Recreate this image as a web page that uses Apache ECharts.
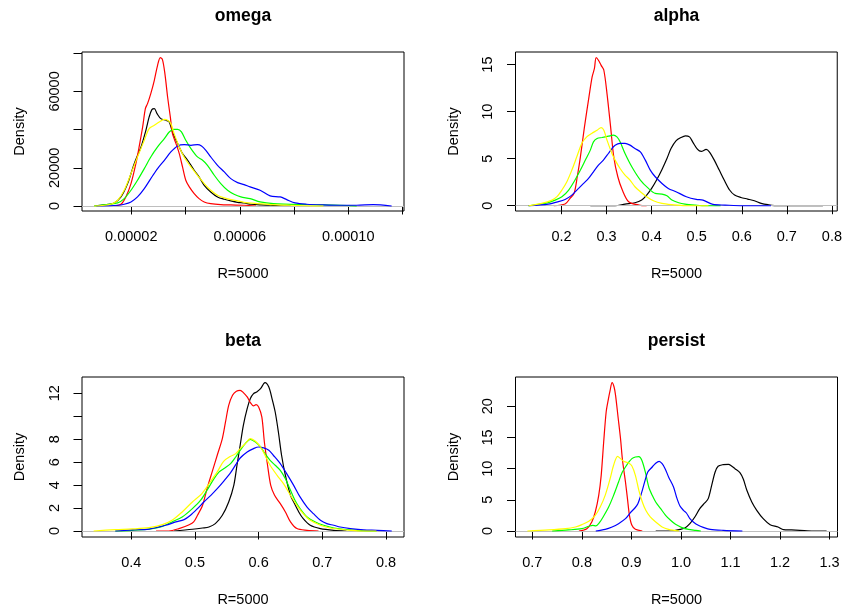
<!DOCTYPE html>
<html>
<head>
<meta charset="utf-8">
<title>Density of estimates, R=5000</title>
<script src="https://cdn.jsdelivr.net/npm/echarts@6/dist/echarts.min.js"></script>
<style>
  html, body { margin: 0; padding: 0; background: #fff; }
  #chart { width: 845px; height: 610px; }
</style>
</head>
<body>
<div id="chart"></div>
<script>
// ---- omega ----
const omegaBlack = [[6.4e-6,0],[10.1e-6,560],[13.7e-6,1600],[16.2e-6,4745],[18.65e-6,11725],[21.1e-6,22195],[23.6e-6,30920],[25.4e-6,39645],[26.6e-6,46625],[27.6e-6,50465],[28.5e-6,50990],[29.5e-6,48370],[30.9e-6,45750],[32.8e-6,44880],[34.0e-6,44010],[35.2e-6,38775],[37.1e-6,32665],[38.9e-6,27430],[40.8e-6,23940],[43.2e-6,18705],[45.0e-6,15215],[46.9e-6,10850],[49.3e-6,7360],[51.8e-6,4745],[54.3e-6,3520],[56.7e-6,2650],[59.2e-6,1920],[61.6e-6,1570],[64.1e-6,910],[67.8e-6,560],[71.4e-6,380],[76.4e-6,0],[78.8e-6,0]];
const omegaRed = [[13.7e-6,0],[16.2e-6,910],[18.0e-6,4745],[19.9e-6,11725],[21.7e-6,22195],[22.9e-6,30920],[24.2e-6,41390],[25.2e-6,50990],[26.0e-6,53605],[27.2e-6,58840],[28.5e-6,65820],[29.7e-6,73670],[30.7e-6,77690],[31.5e-6,76640],[32.4e-6,69310],[33.4e-6,57095],[34.4e-6,46625],[35.2e-6,37900],[36.5e-6,32665],[37.7e-6,27430],[38.9e-6,20450],[40.1e-6,13470],[41.4e-6,9980],[43.2e-6,6490],[45.0e-6,3870],[46.9e-6,2130],[49.3e-6,1255],[53.0e-6,730],[56.7e-6,560],[61.6e-6,380],[66.0e-6,0]];
const omegaGreen = [[6.4e-6,0],[15.0e-6,1600],[17.4e-6,3870],[19.9e-6,8235],[22.3e-6,13470],[24.8e-6,19580],[27.2e-6,25685],[29.7e-6,30920],[32.2e-6,35280],[34.0e-6,38770],[35.6e-6,40170],[37.1e-6,40170],[38.5e-6,38770],[40.1e-6,34410],[42.0e-6,30050],[44.4e-6,25685],[46.3e-6,23940],[48.1e-6,21320],[50.6e-6,16090],[53.0e-6,11725],[55.5e-6,8235],[57.9e-6,6140],[60.4e-6,4745],[63.8e-6,3870],[67.5e-6,2130],[72.4e-6,1255],[84.7e-6,730],[97.0e-6,380],[103.1e-6,0]];
const omegaBlue = [[7.1e-6,0],[15.0e-6,380],[17.4e-6,910],[19.9e-6,2130],[22.3e-6,4745],[24.8e-6,9110],[27.2e-6,14340],[29.7e-6,19580],[32.2e-6,23940],[34.6e-6,28300],[37.1e-6,31440],[39.5e-6,32140],[42.0e-6,31790],[44.4e-6,32140],[45.9e-6,31440],[47.5e-6,29175],[49.3e-6,25685],[51.8e-6,21320],[54.3e-6,17830],[56.7e-6,14340],[59.2e-6,12250],[61.6e-6,11200],[63.8e-6,9980],[67.5e-6,8235],[71.2e-6,5270],[74.9e-6,4745],[77.3e-6,3350],[80.4e-6,1600],[84.7e-6,910],[90.8e-6,560],[97.0e-6,380],[103.1e-6,380],[109.2e-6,730],[116.0e-6,0]];
const omegaYellow = [[6.4e-6,0],[12.5e-6,910],[15.0e-6,3000],[17.4e-6,8235],[19.9e-6,16960],[22.3e-6,25685],[24.8e-6,34410],[26.6e-6,40520],[28.5e-6,42260],[30.3e-6,44010],[32.2e-6,45400],[33.4e-6,44880],[34.6e-6,43135],[35.8e-6,37900],[37.7e-6,30920],[39.5e-6,25685],[42.0e-6,20450],[44.4e-6,16090],[46.9e-6,11725],[49.3e-6,8235],[51.8e-6,5620],[54.3e-6,4220],[56.7e-6,3350],[59.2e-6,2650],[61.6e-6,1920],[66.5e-6,1255],[71.4e-6,730],[78.8e-6,380],[88.6e-6,0],[90.8e-6,0]];

// ---- alpha ----
const alphaBlack = [[0.264,0],[0.319,0],[0.341,0.18],[0.363,0.32],[0.378,0.6],[0.389,1.13],[0.400,1.84],[0.411,2.73],[0.423,3.86],[0.434,5.02],[0.443,6.08],[0.454,6.9],[0.465,7.25],[0.475,7.43],[0.484,7.32],[0.491,6.79],[0.502,5.98],[0.510,5.77],[0.521,5.98],[0.528,5.73],[0.539,4.85],[0.550,3.79],[0.561,2.73],[0.573,1.67],[0.584,1.13],[0.598,0.88],[0.613,0.71],[0.628,0.53],[0.643,0.25],[0.658,0.11],[0.681,0],[0.780,0]];
const alphaRed = [[0.183,0],[0.208,0.18],[0.219,0.78],[0.228,1.31],[0.235,3.08],[0.242,5.2],[0.251,8.38],[0.261,11.57],[0.268,13.69],[0.273,14.57],[0.277,15.74],[0.282,15.46],[0.288,14.92],[0.294,14.4],[0.301,11.92],[0.309,8.38],[0.316,5.2],[0.325,3.08],[0.335,1.67],[0.349,0.43],[0.372,0.07],[0.389,0]];
const alphaGreen = [[0.127,0],[0.164,0.25],[0.186,0.6],[0.201,0.96],[0.216,1.67],[0.230,2.73],[0.242,3.79],[0.253,4.85],[0.264,5.91],[0.271,6.79],[0.279,7.15],[0.290,7.25],[0.304,7.39],[0.315,7.5],[0.323,7.32],[0.330,6.79],[0.341,5.55],[0.356,4.14],[0.375,2.73],[0.393,1.84],[0.408,1.31],[0.423,1.24],[0.434,1.06],[0.445,0.6],[0.460,0.32],[0.474,0.18],[0.497,0.07],[0.519,0],[0.553,0]];
const alphaBlue = [[0.127,0],[0.171,0.18],[0.193,0.43],[0.208,0.67],[0.223,1.13],[0.238,1.84],[0.249,2.37],[0.260,2.9],[0.271,3.61],[0.282,4.32],[0.293,4.85],[0.304,5.55],[0.312,6.08],[0.319,6.44],[0.330,6.62],[0.341,6.62],[0.352,6.44],[0.363,6.08],[0.375,5.73],[0.386,4.85],[0.397,3.79],[0.408,3.08],[0.423,2.37],[0.437,1.84],[0.454,1.49],[0.477,0.96],[0.499,0.67],[0.514,0.6],[0.536,0.14],[0.563,0.07],[0.602,0],[0.665,0]];
const alphaYellow = [[0.127,0],[0.156,0.25],[0.179,0.6],[0.190,0.96],[0.201,1.67],[0.212,2.55],[0.223,3.79],[0.234,5.2],[0.245,6.62],[0.256,7.32],[0.267,7.68],[0.279,8.03],[0.288,8.31],[0.294,8.03],[0.301,6.97],[0.312,5.55],[0.319,4.85],[0.330,3.96],[0.341,3.26],[0.352,2.73],[0.363,2.02],[0.375,1.49],[0.389,0.96],[0.404,0.53],[0.423,0.25],[0.445,0.11],[0.474,0],[0.526,0]];

// ---- beta ----
const betaBlack = [[0.467,0],[0.496,0.15],[0.512,0.26],[0.522,0.35],[0.532,0.64],[0.543,1.37],[0.553,2.53],[0.561,3.98],[0.566,5.73],[0.571,7.47],[0.576,9.21],[0.582,10.66],[0.587,11.54],[0.592,11.97],[0.597,12.12],[0.603,12.41],[0.608,12.84],[0.610,12.93],[0.616,12.55],[0.621,11.54],[0.626,10.37],[0.631,8.63],[0.636,6.6],[0.642,4.85],[0.650,3.11],[0.655,2.53],[0.663,1.66],[0.670,1.08],[0.681,0.5],[0.697,0.21],[0.718,0.06],[0.738,0]];
const betaRed = [[0.439,0],[0.459,0],[0.475,0.21],[0.491,0.55],[0.498,0.79],[0.504,1.37],[0.512,2.24],[0.519,3.69],[0.527,5.15],[0.535,6.6],[0.543,8.05],[0.548,9.5],[0.553,10.95],[0.559,11.83],[0.565,12.18],[0.571,12.26],[0.576,12.06],[0.582,11.68],[0.587,11.19],[0.592,10.9],[0.596,11.01],[0.600,10.81],[0.605,9.94],[0.609,7.76],[0.614,5.73],[0.619,3.98],[0.625,3.11],[0.634,2.38],[0.642,1.66],[0.650,0.79],[0.660,0.21],[0.676,0.06],[0.694,0]];
const betaGreen = [[0.375,0],[0.402,0.06],[0.428,0.17],[0.449,0.4],[0.464,0.79],[0.480,1.22],[0.496,1.95],[0.509,2.68],[0.519,3.55],[0.530,4.56],[0.538,5.15],[0.545,5.43],[0.556,5.87],[0.564,6.45],[0.571,7.03],[0.579,7.61],[0.587,7.99],[0.595,7.76],[0.603,7.32],[0.610,6.74],[0.618,6.16],[0.626,5.73],[0.634,5.29],[0.642,4.56],[0.650,3.55],[0.657,2.68],[0.665,1.95],[0.676,1.22],[0.689,0.79],[0.702,0.5],[0.718,0.26],[0.733,0.15],[0.754,0.06],[0.785,0]];
const betaBlue = [[0.375,0],[0.402,0.09],[0.428,0.17],[0.454,0.5],[0.470,0.79],[0.483,0.99],[0.493,1.37],[0.504,1.95],[0.514,2.53],[0.525,3.11],[0.535,3.69],[0.545,4.33],[0.556,5.09],[0.564,5.78],[0.571,6.36],[0.582,6.89],[0.592,7.18],[0.600,7.32],[0.608,7.24],[0.616,7.03],[0.623,6.6],[0.634,5.87],[0.644,5.0],[0.655,3.98],[0.665,2.97],[0.676,2.09],[0.686,1.51],[0.697,0.93],[0.707,0.64],[0.718,0.5],[0.728,0.35],[0.744,0.21],[0.765,0.09],[0.786,0.06],[0.809,0]];
const betaYellow = [[0.341,0],[0.375,0.12],[0.402,0.18],[0.428,0.29],[0.449,0.55],[0.464,0.93],[0.480,1.66],[0.496,2.53],[0.511,3.26],[0.524,4.27],[0.535,5.15],[0.545,6.07],[0.556,6.51],[0.564,6.74],[0.571,7.18],[0.579,7.61],[0.587,8.05],[0.595,7.82],[0.603,7.32],[0.610,6.6],[0.618,5.73],[0.629,4.85],[0.639,4.13],[0.650,3.11],[0.660,2.24],[0.670,1.51],[0.681,0.93],[0.697,0.5],[0.712,0.26],[0.728,0.15],[0.744,0.06],[0.762,0],[0.785,0]];

// ---- persist ----
const persistBlack = [[0.949,0],[0.982,0],[0.998,0.27],[1.008,0.49],[1.018,1.18],[1.028,2.25],[1.038,3.59],[1.048,4.5],[1.055,5.19],[1.062,7.33],[1.069,9.47],[1.075,10.38],[1.085,10.64],[1.096,10.7],[1.102,10.43],[1.109,10.0],[1.119,9.36],[1.126,8.29],[1.133,6.53],[1.143,4.66],[1.153,3.32],[1.166,1.98],[1.180,1.02],[1.196,0.65],[1.207,0.22],[1.223,0.17],[1.240,0.11],[1.267,0],[1.294,0]];
const persistRed = [[0.794,0],[0.810,0.38],[0.820,1.45],[0.827,3.05],[0.834,5.72],[0.839,8.93],[0.844,14.28],[0.849,19.09],[0.853,20.96],[0.857,22.57],[0.861,23.8],[0.865,23.1],[0.868,21.76],[0.873,18.29],[0.878,14.81],[0.882,11.34],[0.888,7.86],[0.892,5.19],[0.896,2.52],[0.901,0.91],[0.908,0.27],[0.922,0]];
const persistGreen = [[0.740,0],[0.773,0.17],[0.800,0.38],[0.814,0.76],[0.822,0.92],[0.828,0.81],[0.835,1.29],[0.844,2.41],[0.854,3.85],[0.864,5.72],[0.874,7.87],[0.881,9.36],[0.888,10.27],[0.894,10.97],[0.901,11.61],[0.908,11.87],[0.915,11.93],[0.921,11.34],[0.928,9.47],[0.935,7.06],[0.942,5.72],[0.949,4.66],[0.959,3.59],[0.969,2.52],[0.979,1.72],[0.989,1.07],[1.002,0.54],[1.015,0.27],[1.030,0.11],[1.040,0]];
const persistBlue = [[0.828,0],[0.847,0.27],[0.861,0.65],[0.874,1.18],[0.888,1.98],[0.898,2.95],[0.907,3.69],[0.913,4.39],[0.920,5.99],[0.927,7.97],[0.933,9.47],[0.942,10.27],[0.948,10.8],[0.956,11.18],[0.962,10.8],[0.968,10.0],[0.975,8.67],[0.985,7.06],[0.991,5.46],[0.998,4.02],[1.005,3.32],[1.011,2.89],[1.018,1.98],[1.025,1.45],[1.035,0.91],[1.045,0.59],[1.059,0.27],[1.085,0.11],[1.124,0]];
const persistYellow = [[0.690,0],[0.733,0.17],[0.767,0.38],[0.787,0.65],[0.800,1.02],[0.814,1.56],[0.827,2.52],[0.837,3.85],[0.847,5.72],[0.857,8.4],[0.864,10.54],[0.872,11.98],[0.878,11.61],[0.884,11.18],[0.894,10.91],[0.901,10.43],[0.908,8.93],[0.915,6.53],[0.922,4.66],[0.929,3.32],[0.938,2.25],[0.949,1.45],[0.962,0.65],[0.975,0.27],[0.996,0]];

// ---- axes: tick positions and which of them carry a label ----
const omegaXTicks = [0.00002, 0.00004, 0.00006, 0.00008, 0.00010, 0.00012];
const omegaXLabels = [0.00002, 0.00006, 0.00010];
const omegaYTicks = [0, 20000, 40000, 60000, 80000];
const omegaYLabels = [0, 20000, 60000];
const alphaXTicks = [0.2, 0.3, 0.4, 0.5, 0.6, 0.7, 0.8];
const alphaYTicks = [0, 5, 10, 15];
const betaXTicks = [0.4, 0.5, 0.6, 0.7, 0.8];
const betaYTicks = [0, 2, 4, 6, 8, 10, 12];
const betaYLabels = [0, 2, 4, 6, 8, 12];
const persistXTicks = [0.7, 0.8, 0.9, 1.0, 1.1, 1.2, 1.3];
const persistYTicks = [0, 5, 10, 15, 20];

const panelTitles = ['omega', 'alpha', 'beta', 'persist'];
const xTitle = 'R=5000';
const yTitle = 'Density';

// plotting ranges (data range widened by 4% on each side)
const omegaXRange = [1.84e-6, 120.55e-6], omegaYRange = [-2618, 80634];
const alphaXRange = [0.098, 0.8118], alphaYRange = [-0.56, 16.34];
const betaXRange = [0.3227, 0.8282], betaYRange = [-0.523, 13.42];
const persistXRange = [0.666, 1.316], persistYRange = [-0.96, 24.70];

const FONT = '"Liberation Sans", Arial, Helvetica, sans-serif';
const COLORS = { black: '#000000', red: '#FF0000', green: '#00FF00', blue: '#0000FF', yellow: '#FFFF00' };

// plot regions
const boxes = [
  { left: 82, top: 52, width: 322, height: 159 },
  { left: 515.5, top: 52, width: 322, height: 159 },
  { left: 82, top: 377, width: 322, height: 160 },
  { left: 515.5, top: 377, width: 322, height: 160 }
];

const panels = [
  { xr: omegaXRange, yr: omegaYRange, xt: omegaXTicks, xl: omegaXLabels, xd: 5, yt: omegaYTicks, yl: omegaYLabels,
    curves: { black: omegaBlack, red: omegaRed, green: omegaGreen, blue: omegaBlue, yellow: omegaYellow } },
  { xr: alphaXRange, yr: alphaYRange, xt: alphaXTicks, xl: alphaXTicks, xd: 1, yt: alphaYTicks, yl: alphaYTicks,
    curves: { black: alphaBlack, red: alphaRed, green: alphaGreen, blue: alphaBlue, yellow: alphaYellow } },
  { xr: betaXRange, yr: betaYRange, xt: betaXTicks, xl: betaXTicks, xd: 1, yt: betaYTicks, yl: betaYLabels,
    curves: { black: betaBlack, red: betaRed, green: betaGreen, blue: betaBlue, yellow: betaYellow } },
  { xr: persistXRange, yr: persistYRange, xt: persistXTicks, xl: persistXTicks, xd: 1, yt: persistYTicks, yl: persistYTicks,
    curves: { black: persistBlack, red: persistRed, green: persistGreen, blue: persistBlue, yellow: persistYellow } }
];

const labelStyle = { color: '#000', fontSize: 14.5, fontFamily: FONT };
const tickStyle = { color: '#000', width: 1 };

const grid = [], xAxis = [], yAxis = [], series = [], graphic = [];

panels.forEach((p, i) => {
  const b = boxes[i];
  grid.push(Object.assign({ show: true, borderColor: '#000', borderWidth: 1, backgroundColor: 'transparent', containLabel: false }, b));

  xAxis.push({
    type: 'value', gridIndex: i, min: p.xr[0], max: p.xr[1],
    axisLine: { show: false }, splitLine: { show: false },
    axisTick: { show: true, inside: false, length: 8.5, customValues: p.xt, lineStyle: tickStyle },
    axisLabel: Object.assign({ customValues: p.xl, margin: 18.5, formatter: v => v.toFixed(p.xd) }, labelStyle)
  });
  yAxis.push({
    type: 'value', gridIndex: i, min: p.yr[0], max: p.yr[1],
    axisLine: { show: false }, splitLine: { show: false },
    axisTick: { show: true, inside: false, length: 8.5, customValues: p.yt, lineStyle: tickStyle },
    axisLabel: Object.assign({ customValues: p.yl, rotate: 90, margin: 20, formatter: v => String(Math.round(v)) }, labelStyle)
  });

  // first curve, then the grey zero line, then the remaining curves on top
  const order = ['black', 'zero', 'red', 'green', 'blue', 'yellow'];
  order.forEach((key, k) => {
    if (key === 'zero') {
      series.push({
        type: 'line', xAxisIndex: i, yAxisIndex: i, data: [], z: 2 + k, silent: true,
        markLine: { silent: true, symbol: 'none', animation: false, label: { show: false },
          lineStyle: { color: '#BEBEBE', width: 1, type: 'solid' }, data: [{ yAxis: 0 }] }
      });
      return;
    }
    series.push({
      type: 'line', xAxisIndex: i, yAxisIndex: i, data: p.curves[key],
      showSymbol: false, symbol: 'none', smooth: 0.3, clip: true, silent: true, z: 2 + k,
      lineStyle: { color: COLORS[key], width: 1.2 }
    });
  });

  const cx = b.left + b.width / 2;
  const cy = b.top + b.height / 2;
  graphic.push({ type: 'text', x: cx, y: b.top - 36, style: { text: panelTitles[i], font: 'bold 17.5px ' + FONT, fill: '#000', textAlign: 'center', textVerticalAlign: 'middle' } });
  graphic.push({ type: 'text', x: cx, y: b.top + b.height + 63, style: { text: xTitle, font: '14.5px ' + FONT, fill: '#000', textAlign: 'center', textVerticalAlign: 'middle' } });
  graphic.push({ type: 'text', x: b.left - 62, y: cy, rotation: Math.PI / 2, style: { text: yTitle, font: '14.5px ' + FONT, fill: '#000', textAlign: 'center', textVerticalAlign: 'middle' } });
});

const chart = echarts.init(document.getElementById('chart'), null, { renderer: 'canvas' });
chart.setOption({ animation: false, backgroundColor: '#fff', grid, xAxis, yAxis, series, graphic });
</script>
</body>
</html>
